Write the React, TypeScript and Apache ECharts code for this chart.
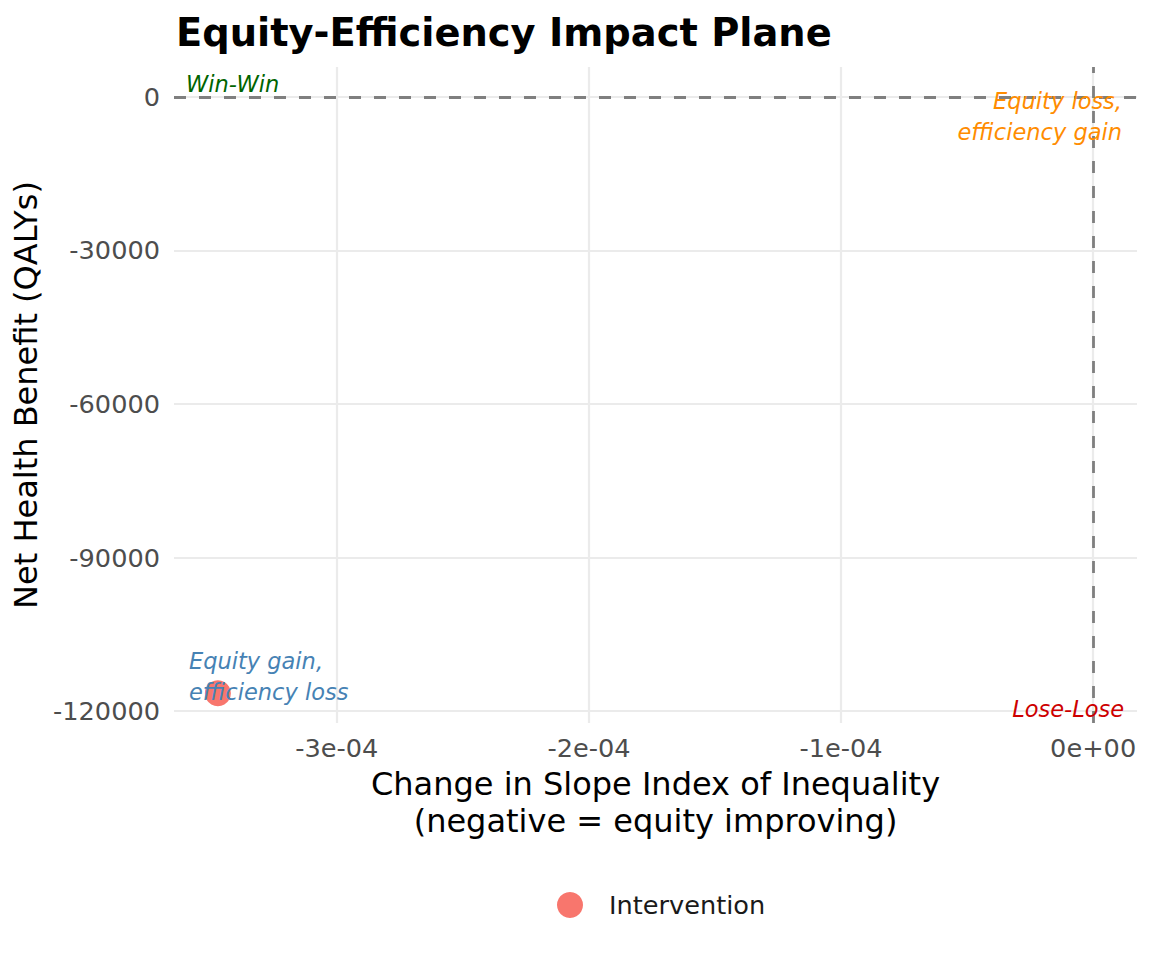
import React, { useEffect, useRef } from "react";
import * as echarts from "echarts";

const titleText = "Equity-Efficiency Impact Plane";
const xAxisTitle = "Change in Slope Index of Inequality\n(negative = equity improving)";
const yAxisTitle = "Net Health Benefit (QALYs)";
const seriesName = "Intervention";

const xTicks = [-3e-4, -2e-4, -1e-4, 0];
const yTicks = [0, -30000, -60000, -90000, -120000];
const xRange = [-3.646e-4, 0.174e-4];
const yRange = [-122325, 5825];

const sliChange = [-3.472e-4];
const netHealthBenefit = [-116500];

const FONT = "DejaVu Sans";

function fmtSci(v: number): string {
  if (Math.abs(v) < 1e-12) return "0e+00";
  const s = v.toExponential(0);
  const [m, e] = s.split("e");
  const sign = e[0] === "-" ? "-" : "+";
  const d = e.replace(/[+-]/, "");
  return m + "e" + sign + d.padStart(2, "0");
}

export default function App() {
  const ref = useRef<HTMLDivElement>(null);
  useEffect(() => {
    if (!ref.current) return;
    document.body.style.margin = "0";
    const chart = echarts.init(ref.current, undefined, { renderer: "svg" });
    const annText = (text: string, x: number, y: number, align: string, color: string) => ({
      type: "text",
      x,
      y,
      z: 100,
      style: {
        text,
        fill: color,
        font: `italic 22.5px "${FONT}"`,
        align,
        verticalAlign: "middle",
        lineHeight: 31,
      },
    });
    chart.setOption({
      animation: false,
      backgroundColor: "#ffffff",
      textStyle: { fontFamily: FONT },
      title: {
        text: titleText,
        left: 176,
        top: 13,
        padding: 0,
        textStyle: { fontSize: 38.4, fontWeight: "bold", color: "#000000", fontFamily: FONT },
      },
      grid: { left: 174, right: 15, top: 67, bottom: 237 },
      xAxis: {
        type: "value",
        min: xRange[0],
        max: xRange[1],
        name: xAxisTitle,
        nameLocation: "middle",
        nameGap: 40,
        nameTextStyle: { fontSize: 32, color: "#000000", lineHeight: 37, fontFamily: FONT },
        axisLine: { show: false },
        axisTick: { show: false, customValues: xTicks },
        axisLabel: {
          customValues: xTicks,
          formatter: (v: number) => fmtSci(v),
          fontSize: 25.6,
          color: "#4D4D4D",
          margin: 12,
          fontFamily: FONT,
        },
        splitLine: { show: true, lineStyle: { color: "#EBEBEB", width: 2.2 } },
      },
      yAxis: {
        type: "value",
        min: yRange[0],
        max: yRange[1],
        name: yAxisTitle,
        nameLocation: "middle",
        nameGap: 128,
        nameTextStyle: { fontSize: 32, color: "#000000", fontFamily: FONT },
        axisLine: { show: false },
        axisTick: { show: false, customValues: yTicks },
        axisLabel: {
          customValues: yTicks,
          formatter: (v: number) => String(Math.round(v)),
          fontSize: 25.6,
          color: "#4D4D4D",
          margin: 14,
          fontFamily: FONT,
        },
        splitLine: { show: true, lineStyle: { color: "#EBEBEB", width: 2.2 } },
      },
      legend: {
        data: [{ name: seriesName, icon: "circle" }],
        left: 552,
        top: 887,
        itemWidth: 26,
        itemHeight: 26,
        textStyle: { fontSize: 25.6, color: "#1A1A1A", padding: [0, 0, 0, 21], fontFamily: FONT },
      },
      series: [
        {
          name: seriesName,
          type: "scatter",
          symbol: "circle",
          symbolSize: 26,
          itemStyle: { color: "#F8766D", opacity: 1 },
          data: sliChange.map((x, i) => [x, netHealthBenefit[i]]),
          z: 5,
          markLine: {
            silent: true,
            symbol: "none",
            label: { show: false },
            lineStyle: { color: "#7F7F7F", type: [12, 13], width: 2.8 },
            data: [{ xAxis: 0 }, { yAxis: 0 }],
            z: 3,
          },
        },
      ],
      graphic: [
        annText("Win-Win", 186, 84, "left", "#006400"),
        annText("Equity loss,\nefficiency gain", 1122, 116, "right", "#FF8C00"),
        annText("Equity gain,\nefficiency loss", 189, 676, "left", "#4682B4"),
        annText("Lose-Lose", 1124, 709, "right", "#CD0000"),
      ],
    });
    return () => chart.dispose();
  }, []);
  return <div ref={ref} style={{ width: 1152, height: 960 }} />;
}
